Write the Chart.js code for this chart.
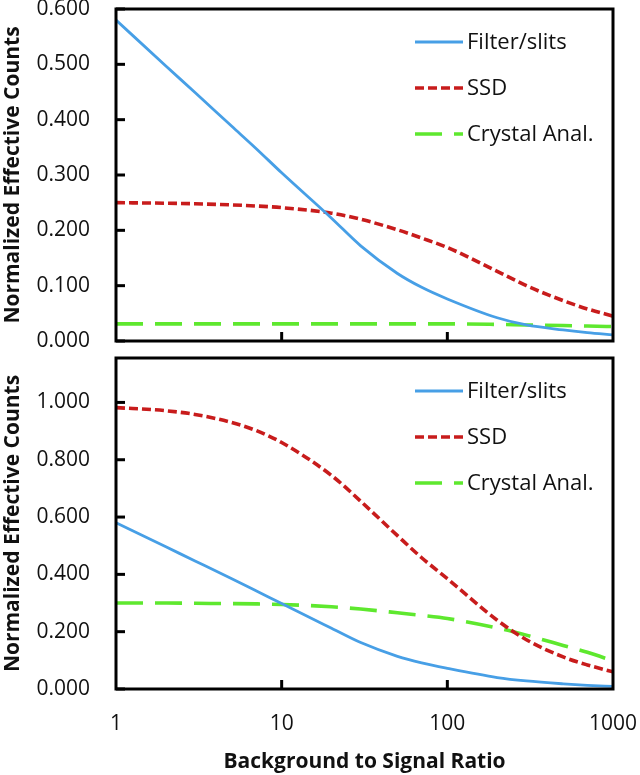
<!DOCTYPE html>
<html>
<head>
<meta charset="UTF-8">
<title>Normalized Effective Counts</title>
<script src="https://cdn.jsdelivr.net/npm/chart.js@4.4.0"></script>
<style>
  html, body { margin: 0; padding: 0; background: #fff; }
  .panel { position: absolute; left: 0; width: 640px; }
  #topWrap { top: 0; height: 352px; }
  #botWrap { top: 349px; height: 426px; }
</style>
</head>
<body>
<div class="panel" id="topWrap"><canvas id="topChart"></canvas></div>
<div class="panel" id="botWrap"><canvas id="botChart"></canvas></div>
<script>
// background to signal ratio (x, log scale)
const ratios = [1, 2, 3, 5, 7, 10, 20, 30, 50, 70, 100, 200, 300, 500, 700, 1000];
const seriesNames = ['Filter/slits', 'SSD', 'Crystal Anal.'];

// top panel
const topFilter  = [0.580, 0.497, 0.449, 0.388, 0.348, 0.304, 0.222, 0.172, 0.122, 0.097, 0.076, 0.042, 0.029, 0.020, 0.015, 0.011];
const topSSD     = [0.250, 0.249, 0.248, 0.246, 0.244, 0.241, 0.231, 0.220, 0.201, 0.186, 0.169, 0.126, 0.100, 0.073, 0.058, 0.045];
const topCrystal = [0.031, 0.031, 0.031, 0.031, 0.031, 0.031, 0.031, 0.031, 0.031, 0.031, 0.031, 0.030, 0.029, 0.028, 0.027, 0.026];

// bottom panel
const botFilter  = [0.580, 0.496, 0.447, 0.385, 0.343, 0.298, 0.212, 0.162, 0.114, 0.091, 0.072, 0.040, 0.028, 0.018, 0.013, 0.009];
const botSSD     = [0.982, 0.971, 0.958, 0.930, 0.902, 0.860, 0.745, 0.655, 0.535, 0.458, 0.385, 0.240, 0.172, 0.112, 0.084, 0.060];
const botCrystal = [0.300, 0.300, 0.299, 0.298, 0.297, 0.295, 0.287, 0.279, 0.266, 0.257, 0.246, 0.213, 0.188, 0.152, 0.128, 0.098];

// tick labels
const xTicks = [1, 10, 100, 1000];
const topYTicks = [0, 0.1, 0.2, 0.3, 0.4, 0.5, 0.6];
const botYTicks = [0, 0.2, 0.4, 0.6, 0.8, 1.0];
const topYMax = 0.6;
const botYMax = 1.155;

const FONT = '"Open Sans", "Liberation Sans", sans-serif';
const styles = [
  { color: '#479FE6', width: 2.8, dash: [] },
  { color: '#C81C1C', width: 3.6, dash: [9, 4] },
  { color: '#5EE82E', width: 3.6, dash: [27, 12] }
];

// box around the plot + inside tick marks
const framePlugin = {
  id: 'frame',
  afterDraw(chart) {
    const { ctx, chartArea: a, scales } = chart;
    ctx.save();
    ctx.strokeStyle = '#000';
    ctx.lineWidth = 3;
    ctx.strokeRect(a.left, a.top, a.right - a.left, a.bottom - a.top);
    chart.options.yTickValues.forEach(v => {
      const y = scales.y.getPixelForValue(v);
      ctx.beginPath(); ctx.moveTo(a.left, y); ctx.lineTo(a.left + 9, y); ctx.stroke();
    });
    xTicks.slice(1, -1).forEach(v => {
      const x = scales.x.getPixelForValue(v);
      ctx.beginPath(); ctx.moveTo(x, a.bottom); ctx.lineTo(x, a.bottom - 9); ctx.stroke();
    });
    ctx.restore();
  }
};

// legend drawn inside the plot, top right
const insideLegend = {
  id: 'insideLegend',
  afterDraw(chart) {
    const { ctx, chartArea: a } = chart;
    const x0 = a.right - 198;
    chart.data.datasets.forEach((ds, i) => {
      const y = a.top + 33 + i * 46;
      ctx.save();
      ctx.strokeStyle = ds.borderColor;
      ctx.lineWidth = ds.borderWidth;
      ctx.setLineDash(ds.borderDash || []);
      ctx.beginPath(); ctx.moveTo(x0, y); ctx.lineTo(x0 + 48, y); ctx.stroke();
      ctx.setLineDash([]);
      ctx.fillStyle = '#111';
      ctx.font = '22px ' + FONT;
      ctx.textBaseline = 'middle';
      ctx.fillText(ds.label, x0 + 52, y + 1);
      ctx.restore();
    });
  }
};

function makeDatasets(values) {
  return values.map((vals, i) => ({
    label: seriesNames[i],
    data: ratios.map((r, k) => ({ x: r, y: vals[k] })),
    borderColor: styles[i].color,
    borderWidth: styles[i].width,
    borderDash: styles[i].dash,
    cubicInterpolationMode: 'monotone',
    pointRadius: 0,
    fill: false
  }));
}

function makeChart(id, values, yTicks, yMax, showX, xHeight) {
  const x = {
    type: 'logarithmic',
    min: 1,
    max: 1000,
    grid: { display: false, drawTicks: false },
    border: { display: false },
    afterBuildTicks: s => { s.ticks = xTicks.map(v => ({ value: v })); },
    afterFit: s => { s.height = xHeight; s.paddingLeft = 0; s.paddingRight = 0; },
    ticks: {
      display: showX,
      padding: 22,
      color: '#111',
      font: { family: FONT, size: 21 },
      maxRotation: 0,
      autoSkip: false,
      callback: v => String(v)
    },
    title: {
      display: showX,
      text: 'Background to Signal Ratio',
      color: '#111',
      padding: 0,
      font: { family: FONT, size: 21, weight: 'bold' }
    }
  };
  return new Chart(document.getElementById(id), {
    type: 'line',
    data: { datasets: makeDatasets(values) },
    options: {
      responsive: true,
      maintainAspectRatio: false,
      animation: false,
      yTickValues: yTicks,
      layout: { padding: { top: 9, right: 27, bottom: 0, left: 0 } },
      plugins: { legend: { display: false }, tooltip: { enabled: false } },
      scales: {
        x: x,
        y: {
          type: 'linear',
          min: 0,
          max: yMax,
          grid: { display: false, drawTicks: false },
          border: { display: false },
          afterBuildTicks: s => { s.ticks = yTicks.map(v => ({ value: v })); },
          afterFit: s => { s.width = 116; s.paddingTop = 0; s.paddingBottom = 0; },
          ticks: {
            padding: 26,
            color: '#111',
            font: { family: FONT, size: 21 },
            callback: v => Number(v).toFixed(3)
          },
          title: {
            display: true,
            text: 'Normalized Effective Counts',
            color: '#111',
            padding: 0,
            font: { family: FONT, size: 21, weight: 'bold' }
          }
        }
      }
    },
    plugins: [framePlugin, insideLegend]
  });
}

makeChart('topChart', [topFilter, topSSD, topCrystal], topYTicks, topYMax, false, 11);
makeChart('botChart', [botFilter, botSSD, botCrystal], botYTicks, botYMax, true, 86);
</script>
</body>
</html>
